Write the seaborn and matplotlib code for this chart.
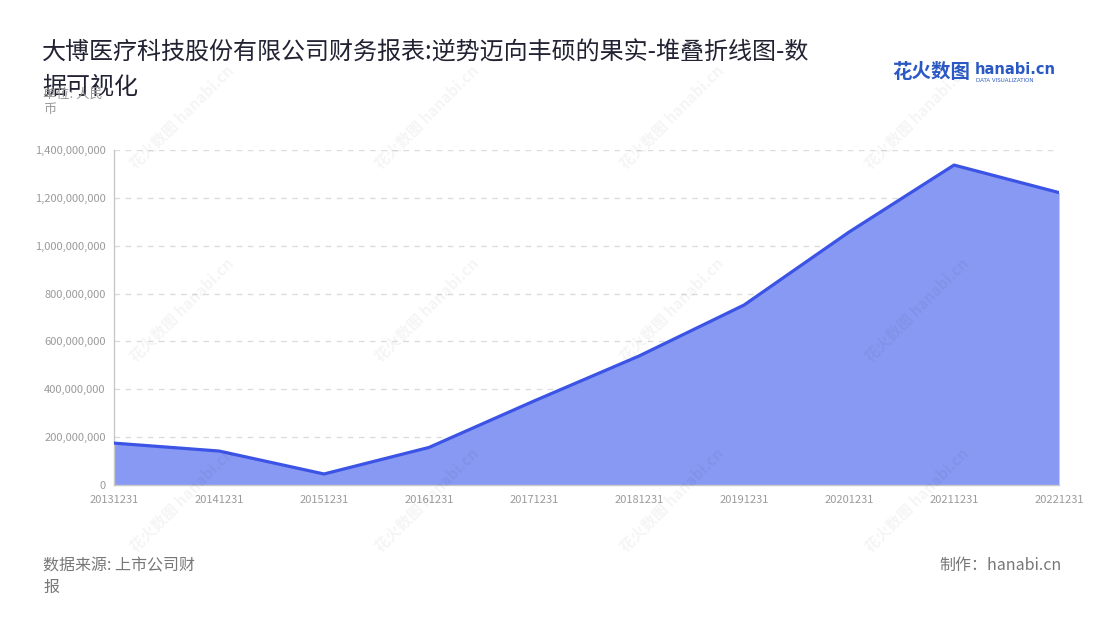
import numpy as np
import pandas as pd
import matplotlib
matplotlib.use("Agg")
import matplotlib.pyplot as plt
import seaborn as sns
from matplotlib.ticker import FuncFormatter

# Data
dates = ["20131231", "20141231", "20151231", "20161231", "20171231",
         "20181231", "20191231", "20201231", "20211231", "20221231"]
values = [175e6, 142e6, 46e6, 157e6, 351e6, 539e6, 752e6, 1057e6, 1337e6, 1222e6]
y_ticks = [0, 200e6, 400e6, 600e6, 800e6, 1000e6, 1200e6, 1400e6]

title = "大博医疗科技股份有限公司财务报表:逆势迈向丰硕的果实-堆叠折线图-数\n据可视化"
unit = "单位: 人民\n币"
source = "数据来源: 上市公司财\n报"
maker = "制作：hanabi.cn"

sns.set_theme(style="white")
plt.rcParams['font.family'] = ['Noto Sans CJK SC', 'DejaVu Sans']

df = pd.DataFrame({"date": dates, "value": values})
df["pos"] = np.arange(len(df))

fig = plt.figure(figsize=(11, 6.2), dpi=100)
ax = fig.add_axes([114 / 1100, 135 / 620, (1059 - 114) / 1100, (485 - 150) / 620])

line_color = "#3b54e6"
fill_color = "#8799f2"

ax.fill_between(df["pos"], df["value"], 0, color=fill_color, linewidth=0, zorder=2)
sns.lineplot(data=df, x="pos", y="value", ax=ax, color=line_color, linewidth=2.3, zorder=3)

ax.set_xlim(0, len(df) - 1)
ax.set_ylim(0, 1400e6)
ax.set_yticks(y_ticks)
ax.yaxis.set_major_formatter(FuncFormatter(lambda v, p: f"{int(v):,}"))
ax.set_xticks(df["pos"])
ax.set_xticklabels(df["date"])
ax.set_xlabel("")
ax.set_ylabel("")

ax.grid(axis="y", color="#dcdcdc", linestyle=(0, (4, 4)), linewidth=1, zorder=1)
ax.grid(axis="x", visible=False)
for s in ["top", "right"]:
    ax.spines[s].set_visible(False)
for s in ["left", "bottom"]:
    ax.spines[s].set_color("#c8c8c8")
    ax.spines[s].set_linewidth(1)
ax.tick_params(axis="both", colors="#c8c8c8", labelcolor="#9a9a9a",
               labelsize=8, length=5, width=1, direction="out")
ax.tick_params(axis="x", pad=2)
ax.tick_params(axis="y", pad=1)

# Watermarks
wm_x = [182, 427, 672, 917]
wm_y = [117, 310, 500]
for wy in wm_y:
    for wx in wm_x:
        fig.text(wx / 1100, 1 - wy / 620, "花火数图 hanabi.cn", rotation=45,
                 ha="center", va="center", fontsize=11, color="#000000",
                 alpha=0.045, fontweight="bold", zorder=0)

# Titles and notes
fig.text(42 / 1100, 1 - 40 / 620, title, ha="left", va="top", fontsize=17.3,
         color="#222233", linespacing=1.4)
fig.text(43 / 1100, 1 - 88 / 620, unit, ha="left", va="top", fontsize=9.5,
         color="#9a9a9a", linespacing=1.25)
fig.text(43 / 1100, 1 - 557 / 620, source, ha="left", va="top", fontsize=11.5,
         color="#777777", linespacing=1.35)
fig.text(1062 / 1100, 1 - 557 / 620, maker, ha="right", va="top", fontsize=11.5,
         color="#777777")

# Logo
fig.text(892 / 1100, 1 - 73 / 620, "花火数图", ha="left", va="center", fontsize=14,
         color="#2b59c3", fontweight="bold")
fig.text(975 / 1100, 1 - 70 / 620, "hanabi.cn", ha="left", va="center", fontsize=10.5,
         color="#2b59c3", fontweight="bold", family=["DejaVu Sans"])
fig.text(976 / 1100, 1 - 80 / 620, "DATA VISUALIZATION", ha="left", va="center",
         fontsize=4, color="#2b59c3", family=["DejaVu Sans"])

fig.savefig("out.png", dpi=100)
